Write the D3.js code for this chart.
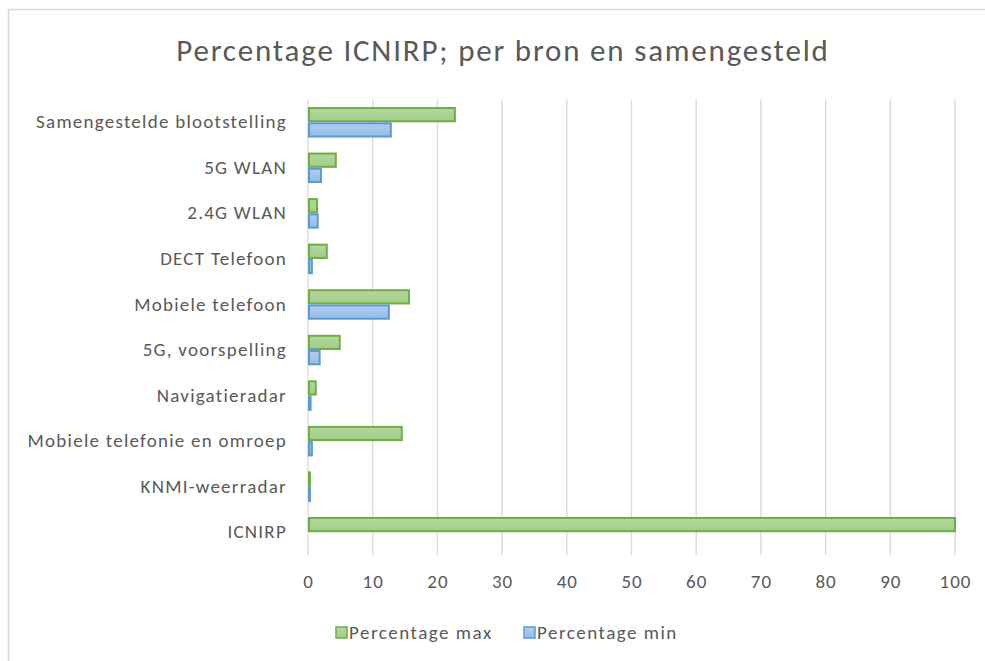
<!DOCTYPE html>
<html><head><meta charset="utf-8">
<script src="https://cdn.jsdelivr.net/npm/d3@7"></script>
<style>body{margin:0;background:#fff}svg{display:block}</style>
</head><body>
<svg id="c" width="985" height="661"></svg>
<script>
const categories = ["Samengestelde blootstelling","5G WLAN","2.4G WLAN","DECT Telefoon","Mobiele telefoon","5G, voorspelling","Navigatieradar","Mobiele telefonie en omroep","KNMI-weerradar","ICNIRP"];
const maxValues = [22.7, 4.3, 1.4, 2.9, 15.6, 4.9, 1.2, 14.5, 0.3, 100];
const minValues = [12.8, 2.0, 1.5, 0.6, 12.5, 1.8, 0.4, 0.6, 0.3, 0];
const seriesNames = ["Percentage max", "Percentage min"];
const xTicks = [0,10,20,30,40,50,60,70,80,90,100];
const title = "Percentage ICNIRP; per bron en samengesteld";

const svg = d3.select("#c");
const font = "Carlito, Calibri, Lato, 'Open Sans', sans-serif";
const textCol = "#595959";

const defs = svg.append("defs");
function grad(id, c1, c2){
  const g = defs.append("linearGradient").attr("id", id).attr("x1",0).attr("y1",0).attr("x2",0).attr("y2",1);
  g.append("stop").attr("offset","0%").attr("stop-color", c1);
  g.append("stop").attr("offset","100%").attr("stop-color", c2);
}
grad("gG", "#b5d8a0", "#a2cc86");
grad("gB", "#b2cdee", "#95bce6");

// frame
svg.append("path").attr("d","M8.5,661 V9.5 H985").attr("fill","none").attr("stroke","#d9d9d9").attr("stroke-width",1.5);

const x = d3.scaleLinear().domain([0,100]).range([308,955]);
const y = d3.scaleBand().domain(categories).range([99.5,555]).paddingInner(0.33).paddingOuter(0.165);
const sub = d3.scaleBand().domain(seriesNames).range([0, y.bandwidth()]);

// grid
svg.append("g").selectAll("line").data(xTicks).join("line")
  .attr("x1",d=>x(d)).attr("x2",d=>x(d)).attr("y1",99.5).attr("y2",555)
  .attr("stroke","#d9d9d9").attr("stroke-width",1.3);

// x axis labels
const xa = svg.append("g").attr("transform","translate(0,556)").call(d3.axisBottom(x).tickValues(xTicks).tickSize(0).tickPadding(19));
xa.select(".domain").remove();
xa.selectAll("text").attr("font-family",font).attr("font-size",19).attr("letter-spacing",1).attr("fill",textCol);

// y labels
const ya = svg.append("g").attr("transform","translate(308,0)").call(d3.axisLeft(y).tickSize(0).tickPadding(21));
ya.select(".domain").remove();
ya.selectAll("text").attr("font-family",font).attr("font-size",19).attr("letter-spacing",1.25).attr("fill",textCol);

const series = [
  {name: seriesNames[0], values: maxValues, fill:"url(#gG)", stroke:"#70ad47"},
  {name: seriesNames[1], values: minValues, fill:"url(#gB)", stroke:"#5b9bd5"}
];
series.forEach(s=>{
  svg.append("g").selectAll("rect").data(categories.map((c,i)=>({c, v:s.values[i]})).filter(d=>d.v>0)).join("rect")
    .attr("x", x(0)+1)
    .attr("y", d=>y(d.c)+sub(s.name)+1)
    .attr("width", d=>Math.max(0.5, x(d.v)-x(0)-1))
    .attr("height", sub.bandwidth()-2)
    .attr("fill", s.fill).attr("stroke", s.stroke).attr("stroke-width",2);
});

// title
svg.append("text").attr("x",503).attr("y",61).attr("text-anchor","middle")
  .attr("font-family",font).attr("font-size",31).attr("letter-spacing",1.8).attr("fill",textCol).text(title);

// legend
const leg = [{name:seriesNames[0], fill:"url(#gG)", stroke:"#70ad47", x:336},{name:seriesNames[1], fill:"url(#gB)", stroke:"#5b9bd5", x:524}];
leg.forEach(l=>{
  svg.append("rect").attr("x",l.x).attr("y",627).attr("width",11).attr("height",11).attr("fill",l.fill).attr("stroke",l.stroke).attr("stroke-width",1.5);
  svg.append("text").attr("x",l.x+13).attr("y",639).attr("font-family",font).attr("font-size",19).attr("letter-spacing",1.5).attr("fill",textCol).text(l.name);
});
</script>
</body></html>
